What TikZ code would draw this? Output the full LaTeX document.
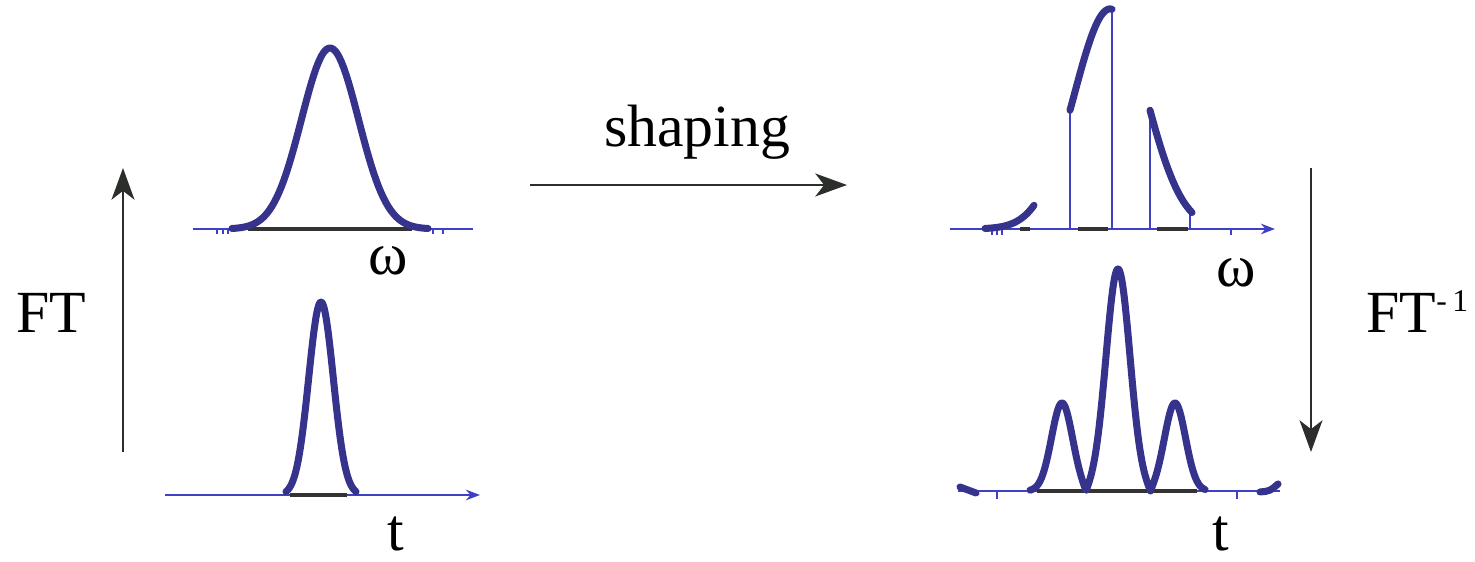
\documentclass[tikz,border=0pt]{standalone}
\usepackage{fontspec}
\setmainfont{Liberation Serif}
\usetikzlibrary{arrows.meta}
\definecolor{PulseClr}{rgb}{0.21,0.2,0.55}
\definecolor{AxisClr}{rgb}{0.25,0.25,0.78}
\definecolor{ArrowClr}{rgb}{0.17,0.18,0.17}

\begin{document}
\begin{tikzpicture}[x=0.01cm,y=-0.01cm,
  pulse/.style={PulseClr,line width=2pt,line cap=round,line join=round},
  axis/.style={AxisClr,line width=0.8pt},
  base/.style={black!80,line width=0.9pt},
  mask/.style={AxisClr,line width=0.7pt},
  flow/.style={ArrowClr,line width=0.75pt,-{Stealth[length=9pt,width=6.5pt,inset=2.5pt]}},
  tip/.style={-{Stealth[length=4pt,width=3pt]}},
  lbl/.style={font=\fontsize{17}{20}\selectfont,inner sep=0pt,anchor=base},
  declare function={spec(\q)=229-220*exp(-((\q-1110)/36)^2/2);
    field(\q)=222*exp(-((\q-1118)/12)^2/2)-88*exp(-((\q-1062)/10.5)^2/2)-88*exp(-((\q-1175)/10.5)^2/2);}]
\useasboundingbox (0,0) rectangle (1475,562);

% input spectrum
\draw[axis] (193,229) -- (473,229);
\draw[base] (248,229) -- (412,229);
\foreach \x in {217,223,228,433,443} \draw[axis] (\x,229) -- (\x,234);
\draw[pulse,domain=232:428,samples=80] plot (\x,{229-181*exp(-((\x-330)/28.5)^2/2)});
\node[lbl] (wa) at (388,275) {ω};

% input pulse
\draw[axis,tip] (165,495) -- (480,495);
\draw[base] (290,495) -- (347,495);
\draw[pulse,domain=286:356,samples=80] plot (\x,{495-193*exp(-((\x-321)/12.3)^2/2)});
\node[lbl] (ta) at (396,551) {t};

% shaped spectrum
\draw[axis,tip] (950,229) -- (1275,229);
\draw[base] (1020,229) -- (1030,229) (1078,229) -- (1108,229) (1157,229) -- (1188,229);
\foreach \x in {992,997,1002,1231} \draw[axis] (\x,229) -- (\x,235);
\draw[mask] (1070,229) -- (1070,{spec(1070)});
\draw[mask] (1112,229) -- (1112,{spec(1112)});
\draw[mask] (1150,229) -- (1150,{spec(1150)});
\draw[mask] (1190,229) -- (1190,{spec(1190)});
\draw[pulse,domain=985:1034,samples=30] plot (\x,{spec(\x)});
\draw[pulse,domain=1070:1112,samples=30] plot (\x,{spec(\x)});
\draw[pulse,domain=1150:1192,samples=30] plot (\x,{spec(\x)});
\node[lbl] (wb) at (1236,287) {ω};

% shaped pulse
\draw[axis] (958,491) -- (1280,491);
\draw[base] (1037,491) -- (1197,491);
\foreach \x in {997,1237} \draw[axis] (\x,491) -- (\x,499);
\draw[pulse,domain=1030:1205,samples=200] plot (\x,{491-abs(field(\x))});
\draw[pulse] (960,487) -- (976,493);
\draw[pulse] (1260,492) .. controls (1270,491) .. (1278,484);
\node[lbl] (tb) at (1221,551) {t};

% transforms
\coordinate (fwd0) at (123,452); \coordinate (fwd1) at (123,168);
\coordinate (shp0) at (530,185); \coordinate (shp1) at (847,185);
\coordinate (inv0) at (1311,168); \coordinate (inv1) at (1311,452);
\draw[flow] (fwd0) -- (fwd1);
\draw[flow] (shp0) -- (shp1);
\draw[flow] (inv0) -- (inv1);
\node[lbl] (ft) at (51,333) {FT};
\node[lbl] (shp) at (697,147) {shaping};
\node[lbl,anchor=base west] (ift) at (1366,333) {FT\raisebox{6pt}{\fontsize{9}{10}\selectfont -\,1}};

\end{tikzpicture}
\end{document}
